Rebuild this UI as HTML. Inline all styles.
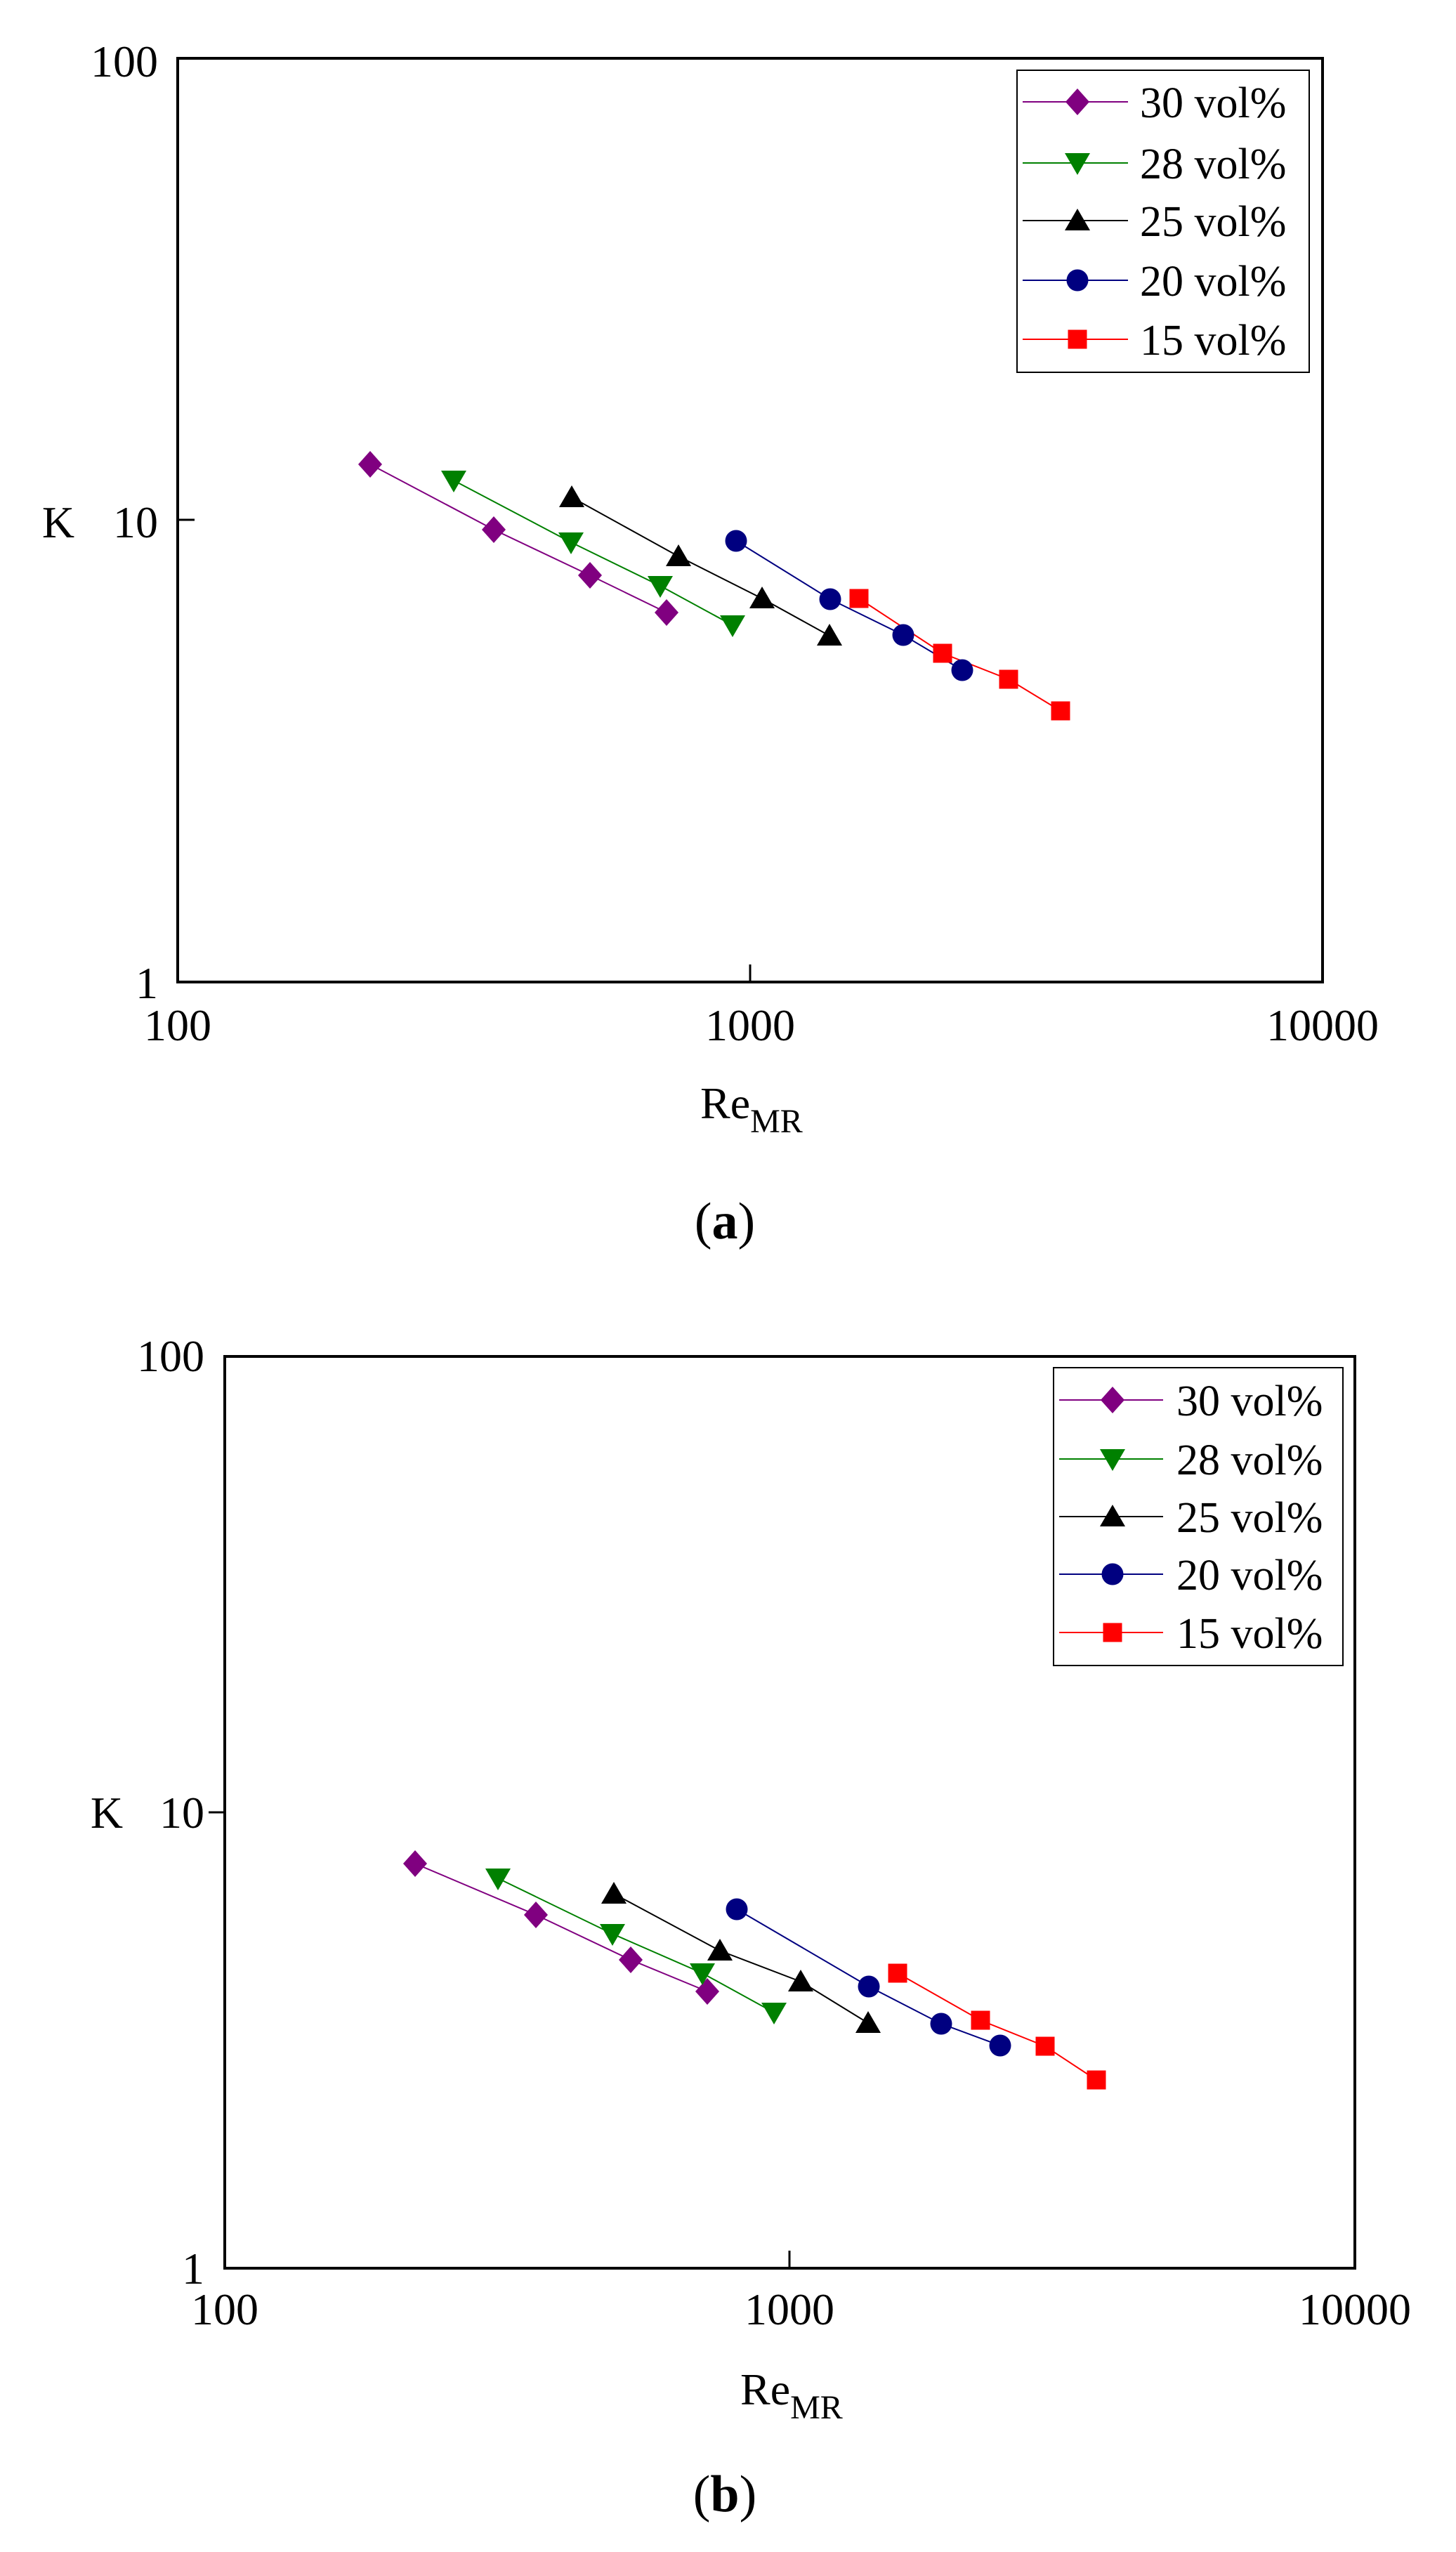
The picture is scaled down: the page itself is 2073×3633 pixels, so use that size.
<!DOCTYPE html>
<html><head><meta charset="utf-8"><style>html,body{margin:0;padding:0;background:#fff}svg{display:block}text{font-family:"Liberation Serif",serif;fill:#000}</style></head>
<body>
<svg width="2073" height="3633" viewBox="0 0 2073 3633" xmlns="http://www.w3.org/2000/svg">
<defs>
<g id="dia"><polygon points="0,-19 17,0 0,19 -17,0"/></g>
<g id="tdn"><polygon points="-18,-14 18,-14 0,17"/></g>
<g id="tup"><polygon points="-18,14 18,14 0,-17"/></g>
<g id="cir"><circle r="15.5"/></g>
<g id="sq"><rect x="-13.5" y="-13.5" width="27" height="27"/></g>
</defs>

<!-- ===== Plot (a) ===== -->
<rect x="253" y="83" width="1630" height="1315" fill="none" stroke="#000" stroke-width="4"/>
<line x1="1068" y1="1398" x2="1068" y2="1373" stroke="#000" stroke-width="3"/>
<line x1="253" y1="740" x2="277" y2="740" stroke="#000" stroke-width="3"/>
<g font-size="64">
<text x="225" y="109" text-anchor="end">100</text>
<text x="225" y="765" text-anchor="end">10</text>
<text x="225" y="1421" text-anchor="end">1</text>
<text x="83" y="765" text-anchor="middle">K</text>
<text x="253" y="1481" text-anchor="middle">100</text>
<text x="1068" y="1481" text-anchor="middle">1000</text>
<text x="1883" y="1481" text-anchor="middle">10000</text>
<text x="997" y="1592">Re<tspan font-size="48" dy="20">MR</tspan></text>
</g>
<text x="1032" y="1763" font-size="74" text-anchor="middle">(<tspan font-weight="bold">a</tspan>)</text>

<g stroke-width="2" fill="none">
<polyline stroke="#800080" points="527,661 703,754 840,819 949,872"/>
<polyline stroke="#008000" points="646,684 813,772 940,834 1043,890"/>
<polyline stroke="#000" points="814,708 966,792 1085,852 1181,905"/>
<polyline stroke="#000080" points="1048,770 1182,853 1286,904 1370,954"/>
<polyline stroke="#ff0000" points="1223,852 1342,930 1436,967 1510,1012"/>
</g>
<g fill="#800080"><use href="#dia" x="527" y="661"/><use href="#dia" x="703" y="754"/><use href="#dia" x="840" y="819"/><use href="#dia" x="949" y="872"/></g>
<g fill="#008000"><use href="#tdn" x="646" y="684"/><use href="#tdn" x="813" y="772"/><use href="#tdn" x="940" y="834"/><use href="#tdn" x="1043" y="890"/></g>
<g fill="#000"><use href="#tup" x="814" y="708"/><use href="#tup" x="966" y="792"/><use href="#tup" x="1085" y="852"/><use href="#tup" x="1181" y="905"/></g>
<g fill="#000080"><use href="#cir" x="1048" y="770"/><use href="#cir" x="1182" y="853"/><use href="#cir" x="1286" y="904"/><use href="#cir" x="1370" y="954"/></g>
<g fill="#ff0000"><use href="#sq" x="1223" y="852"/><use href="#sq" x="1342" y="930"/><use href="#sq" x="1436" y="967"/><use href="#sq" x="1510" y="1012"/></g>

<rect x="1448" y="100" width="416" height="430" fill="#fff" stroke="#000" stroke-width="2"/>
<g stroke-width="2">
<line x1="1456" y1="145" x2="1606" y2="145" stroke="#800080"/>
<line x1="1456" y1="232" x2="1606" y2="232" stroke="#008000"/>
<line x1="1456" y1="314" x2="1606" y2="314" stroke="#000"/>
<line x1="1456" y1="399" x2="1606" y2="399" stroke="#000080"/>
<line x1="1456" y1="483" x2="1606" y2="483" stroke="#ff0000"/>
</g>
<use href="#dia" x="1534" y="145" fill="#800080"/>
<use href="#tdn" x="1534" y="232" fill="#008000"/>
<use href="#tup" x="1534" y="314" fill="#000"/>
<use href="#cir" x="1534" y="399" fill="#000080"/>
<use href="#sq" x="1534" y="483" fill="#ff0000"/>
<g font-size="62">
<text x="1623" y="167">30 vol%</text>
<text x="1623" y="254">28 vol%</text>
<text x="1623" y="336">25 vol%</text>
<text x="1623" y="421">20 vol%</text>
<text x="1623" y="505">15 vol%</text>
</g>

<!-- ===== Plot (b) ===== -->
<rect x="320" y="1931" width="1609" height="1298" fill="none" stroke="#000" stroke-width="4"/>
<line x1="1124" y1="3229" x2="1124" y2="3204" stroke="#000" stroke-width="3"/>
<line x1="297" y1="2580" x2="320" y2="2580" stroke="#000" stroke-width="3"/>
<g font-size="64">
<text x="291" y="1952" text-anchor="end">100</text>
<text x="291" y="2602" text-anchor="end">10</text>
<text x="291" y="3251" text-anchor="end">1</text>
<text x="152" y="2602" text-anchor="middle">K</text>
<text x="320" y="3309" text-anchor="middle">100</text>
<text x="1124" y="3309" text-anchor="middle">1000</text>
<text x="1929" y="3309" text-anchor="middle">10000</text>
<text x="1054" y="3423">Re<tspan font-size="48" dy="20">MR</tspan></text>
</g>
<text x="1032" y="3575" font-size="74" text-anchor="middle">(<tspan font-weight="bold">b</tspan>)</text>

<g stroke-width="2" fill="none">
<polyline stroke="#800080" points="591,2653 763,2726 898,2790 1007,2835"/>
<polyline stroke="#008000" points="709,2674 872,2753 1000,2809 1102,2865"/>
<polyline stroke="#000" points="874,2696 1025,2777 1140,2821 1236,2880"/>
<polyline stroke="#000080" points="1049,2718 1237,2828 1340,2881 1424,2912"/>
<polyline stroke="#ff0000" points="1278,2809 1396,2876 1488,2913 1561,2961"/>
</g>
<g fill="#800080"><use href="#dia" x="591" y="2653"/><use href="#dia" x="763" y="2726"/><use href="#dia" x="898" y="2790"/><use href="#dia" x="1007" y="2835"/></g>
<g fill="#008000"><use href="#tdn" x="709" y="2674"/><use href="#tdn" x="872" y="2753"/><use href="#tdn" x="1000" y="2809"/><use href="#tdn" x="1102" y="2865"/></g>
<g fill="#000"><use href="#tup" x="874" y="2696"/><use href="#tup" x="1025" y="2777"/><use href="#tup" x="1140" y="2821"/><use href="#tup" x="1236" y="2880"/></g>
<g fill="#000080"><use href="#cir" x="1049" y="2718"/><use href="#cir" x="1237" y="2828"/><use href="#cir" x="1340" y="2881"/><use href="#cir" x="1424" y="2912"/></g>
<g fill="#ff0000"><use href="#sq" x="1278" y="2809"/><use href="#sq" x="1396" y="2876"/><use href="#sq" x="1488" y="2913"/><use href="#sq" x="1561" y="2961"/></g>

<rect x="1500" y="1947" width="412" height="424" fill="#fff" stroke="#000" stroke-width="2"/>
<g stroke-width="2">
<line x1="1508" y1="1993" x2="1656" y2="1993" stroke="#800080"/>
<line x1="1508" y1="2077" x2="1656" y2="2077" stroke="#008000"/>
<line x1="1508" y1="2159" x2="1656" y2="2159" stroke="#000"/>
<line x1="1508" y1="2241" x2="1656" y2="2241" stroke="#000080"/>
<line x1="1508" y1="2324" x2="1656" y2="2324" stroke="#ff0000"/>
</g>
<use href="#dia" x="1584" y="1993" fill="#800080"/>
<use href="#tdn" x="1584" y="2077" fill="#008000"/>
<use href="#tup" x="1584" y="2159" fill="#000"/>
<use href="#cir" x="1584" y="2241" fill="#000080"/>
<use href="#sq" x="1584" y="2324" fill="#ff0000"/>
<g font-size="62">
<text x="1675" y="2015">30 vol%</text>
<text x="1675" y="2099">28 vol%</text>
<text x="1675" y="2181">25 vol%</text>
<text x="1675" y="2263">20 vol%</text>
<text x="1675" y="2346">15 vol%</text>
</g>
</svg>
</body></html>
